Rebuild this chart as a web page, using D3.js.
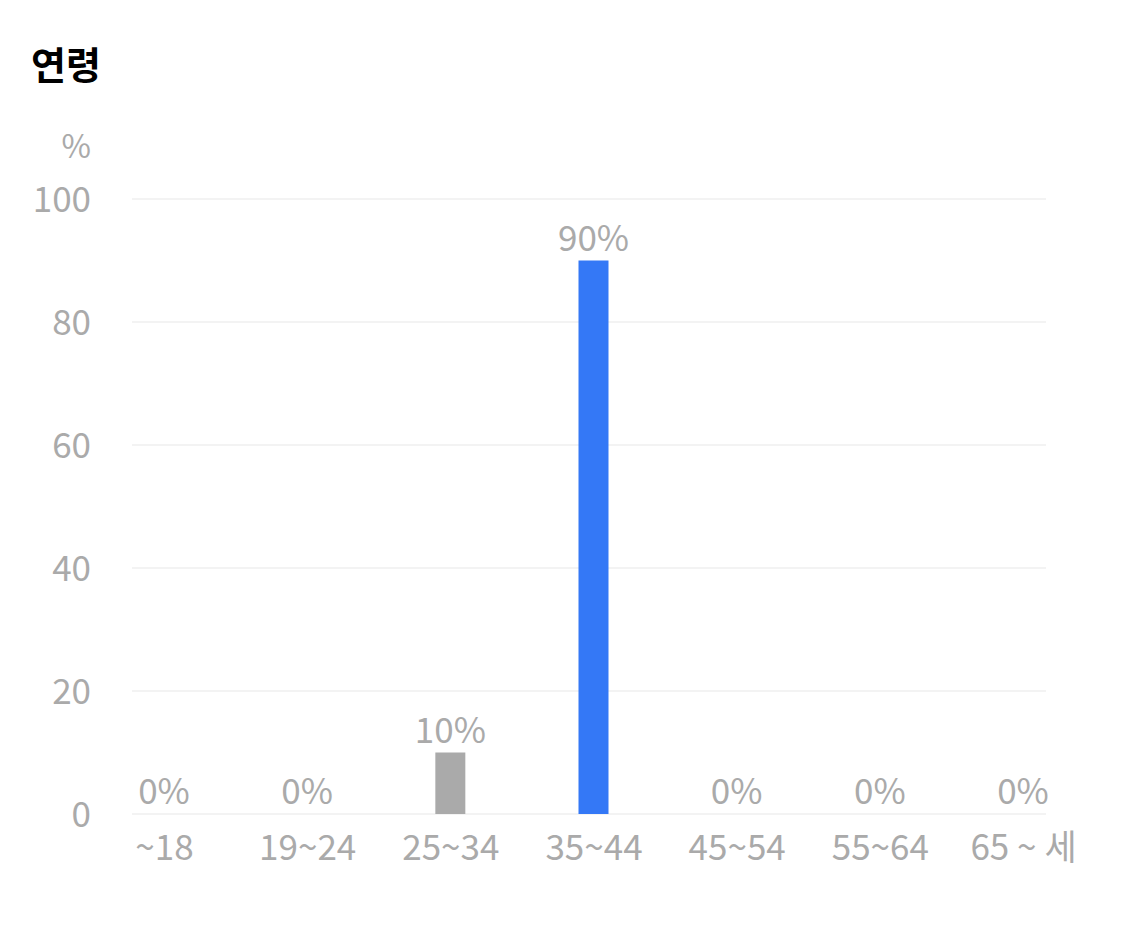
<!DOCTYPE html>
<html>
<head>
<meta charset="utf-8">
<script src="https://cdn.jsdelivr.net/npm/d3@7"></script>
<style>
  body { margin: 0; background: #fff; }
  text { font-family: "Noto Sans CJK KR", "Noto Sans", sans-serif; }
</style>
</head>
<body>
<svg width="1125" height="926"></svg>
<script>
var ageGroups = ['~18', '19~24', '25~34', '35~44', '45~54', '55~64', '65 ~ 세'];
var shares = [0, 0, 10, 90, 0, 0, 0];
var yTicks = [0, 20, 40, 60, 80, 100];
var highlight = '35~44';

var data = ageGroups.map(function(g, i) { return { group: g, value: shares[i] }; });

var svg = d3.select('svg');

var xScale = d3.scalePoint()
    .domain(ageGroups)
    .range([164, 1023]);

var yScale = d3.scaleLinear()
    .domain([0, 100])
    .range([814, 199]);

var barW = 30;
var grey = '#aaaaaa';

// title
svg.append('text')
    .attr('x', 31)
    .attr('y', 79)
    .style('font-size', '38px')
    .style('font-weight', 'bold')
    .style('fill', '#000')
    .text('연령');

svg.append('text')
    .attr('x', 91)
    .attr('y', 158)
    .attr('text-anchor', 'end')
    .style('font-size', '32px')
    .style('fill', grey)
    .text('%');

// gridlines
svg.selectAll('line.grid')
    .data(yTicks)
    .enter()
    .append('line')
    .attr('class', 'grid')
    .attr('x1', 132)
    .attr('x2', 1046)
    .attr('y1', function(d) { return yScale(d); })
    .attr('y2', function(d) { return yScale(d); })
    .style('stroke', '#f3f3f3')
    .style('stroke-width', 2);

var yAxis = d3.axisLeft(yScale).tickValues(yTicks).tickSize(0).tickPadding(0);
var yg = svg.append('g')
    .attr('transform', 'translate(91,0)')
    .call(yAxis);
yg.select('.domain').remove();
yg.selectAll('text')
    .attr('dy', '0.36em')
    .style('font-size', '35px')
    .style('fill', grey);

var xAxis = d3.axisBottom(xScale).tickSize(0).tickPadding(0);
var xg = svg.append('g')
    .attr('transform', 'translate(0,828)')
    .call(xAxis);
xg.select('.domain').remove();
xg.selectAll('text')
    .attr('dy', '0.9em')
    .style('font-size', '35px')
    .style('fill', grey);

svg.selectAll('rect.bar')
    .data(data)
    .enter()
    .append('rect')
    .attr('class', 'bar')
    .attr('x', function(d) { return xScale(d.group) - barW / 2; })
    .attr('y', function(d) { return yScale(d.value); })
    .attr('width', barW)
    .attr('height', function(d) { return yScale(0) - yScale(d.value); })
    .style('fill', function(d) { return d.group === highlight ? '#3478f6' : grey; });

svg.selectAll('text.val')
    .data(data)
    .enter()
    .append('text')
    .attr('class', 'val')
    .attr('x', function(d) { return xScale(d.group); })
    .attr('y', function(d) { return yScale(d.value) - 10; })
    .attr('text-anchor', 'middle')
    .style('font-size', '35px')
    .style('fill', grey)
    .text(function(d) { return d.value + '%'; });
</script>
</body>
</html>
